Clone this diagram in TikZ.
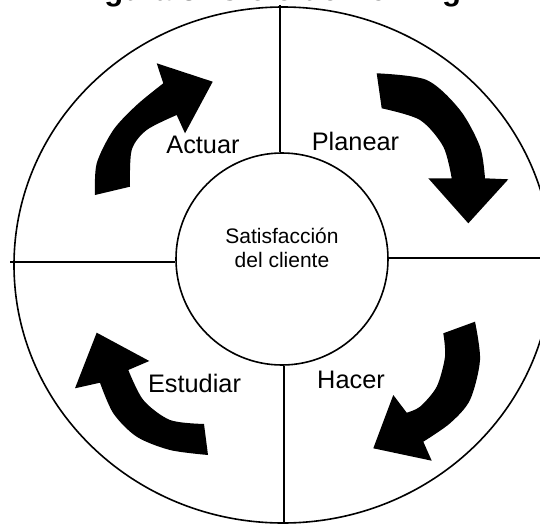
\documentclass[tikz,border=0pt]{standalone}
\usepackage{fontspec}
\setmainfont{Liberation Sans}
\begin{document}
\begin{tikzpicture}[x=0.75pt,y=-0.75pt,
  divider/.style={line width=1.2pt},
  blockarrow/.style={fill=black},
  lbl/.style={font=\fontsize{19}{22}\selectfont, anchor=base, inner sep=0pt},
  ctr/.style={font=\fontsize{15.75}{18}\selectfont, anchor=base, inner sep=0pt}]
\useasboundingbox (0,0) rectangle (540,525);
\clip (0,0) rectangle (540,525);
% title (cut off at top)
\node[font=\bfseries\fontsize{23.3}{27}\selectfont, anchor=base, inner sep=0pt] (title) at (269,0.5) {Figura 3. Ciclo de Deming};
% outer circle
\draw[divider] (283,265) ellipse [x radius=269, y radius=258];
% inner circle
\node[draw, circle, line width=1.2pt, minimum size=159pt, inner sep=0pt] (inner) at (282,259) {};
\node[ctr] (t1) at (282,243) {Satisfacción};
\node[ctr] (t2) at (282,267) {del cliente};
% dividers
\coordinate (ctop) at (280,5);
\coordinate (cbot) at (284,523);
\coordinate (cleft) at (10,262);
\coordinate (cright) at (545,258);
\draw[divider] (ctop) -- (ctop |- inner.north);
\draw[divider] (cbot) -- (cbot |- inner.south);
\draw[divider] (cleft) -- (cleft -| inner.west);
\draw[divider] (cright -| inner.east) -- (cright);
% arrows
% Actuar
\fill[blockarrow] plot[smooth] coordinates {(95,195) (96.7,163.3) (113.3,130) (136.7,105) (163.3,83.3)}
  -- (156.7,63.3) -- (212.7,81.7) -- (185,133.3) -- (176.7,115)
  -- plot[smooth] coordinates {(176.7,115) (146.7,130) (131.7,150) (130,186.7)} -- cycle;
% Planear
\fill[blockarrow] plot[smooth] coordinates {(376.7,73.3) (426.7,80) (460,110) (480,146.7) (485,178.3)}
  -- (508.3,179.3) -- (468.3,223.3) -- (428.3,178.3) -- (451.7,178.3)
  -- plot[smooth] coordinates {(451.7,178.3) (443.3,146.7) (420,120) (381.7,108.3)} -- cycle;
% Hacer
\fill[blockarrow] plot[smooth] coordinates {(475,321.7) (480,360) (470,400) (450,423.3) (423.3,441.7)}
  -- (431.7,460.7) -- (373.3,448.3) -- (393.3,395) -- (406.7,412.7)
  -- plot[smooth] coordinates {(406.7,412.7) (420,406.7) (436.7,386.7) (445,356.7) (443.3,333.3)} -- cycle;
% Estudiar
\fill[blockarrow] plot[smooth] coordinates {(208,455) (170,450) (136.7,436.7) (113.3,413.3) (100,382.7)}
  -- (75,388.3) -- (96.7,332.7) -- (149.3,361) -- (128.3,370)
  -- plot[smooth] coordinates {(128.3,370) (143.3,400) (170,420) (204,424)} -- cycle;
% labels
\node[lbl] (actuar) at (203,153) {Actuar};
\node[lbl] (planear) at (355.5,150) {Planear};
\node[lbl] (hacer) at (351,388) {Hacer};
\node[lbl] (estudiar) at (194.5,392) {Estudiar};
\end{tikzpicture}
\end{document}
